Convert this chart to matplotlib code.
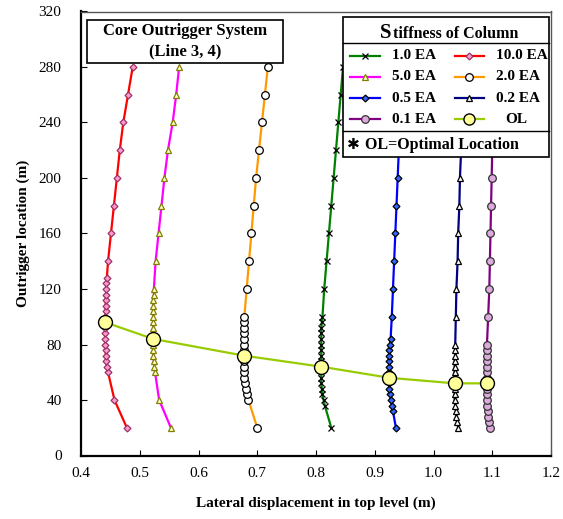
import matplotlib
matplotlib.use("Agg")
import matplotlib.pyplot as plt
from matplotlib.lines import Line2D
from matplotlib.patches import Rectangle

plt.rcParams['font.family'] = ['Liberation Serif', 'DejaVu Serif']

# outrigger heights (m) and top-level lateral displacement (m) for each column stiffness
h_10 = [20, 40, 60, 64, 68, 72, 76, 80, 84, 88, 92, 96, 100, 104, 108, 112, 116, 120, 124, 128,
        140, 160, 180, 200, 220, 240, 260, 280]
x_10 = [0.478, 0.457, 0.446, 0.444, 0.443, 0.442, 0.442, 0.441, 0.441, 0.441, 0.441, 0.441, 0.441, 0.442,
        0.442, 0.442, 0.443, 0.443, 0.443, 0.444, 0.446, 0.451, 0.456, 0.461, 0.466, 0.472, 0.480, 0.488]

h_5 = [20, 40, 60, 64, 68, 72, 76, 80, 84, 88, 92, 96, 100, 104, 108, 112, 116, 120,
       140, 160, 180, 200, 220, 240, 260, 280]
x_5 = [0.553, 0.533, 0.526, 0.525, 0.524, 0.523, 0.523, 0.523, 0.523, 0.523, 0.523, 0.523, 0.523, 0.523,
       0.523, 0.523, 0.524, 0.524, 0.527, 0.532, 0.537, 0.542, 0.548, 0.556, 0.562, 0.567]

h_2 = [20, 40, 44, 48, 52, 56, 60, 64, 68, 72, 76, 80, 84, 88, 92, 96, 100,
       120, 140, 160, 180, 200, 220, 240, 260, 280]
x_2 = [0.700, 0.685, 0.682, 0.680, 0.679, 0.678, 0.677, 0.677, 0.677, 0.677, 0.677, 0.677, 0.677, 0.677,
       0.677, 0.677, 0.678, 0.682, 0.686, 0.690, 0.694, 0.698, 0.703, 0.708, 0.713, 0.718]

h_1 = [20, 36, 40, 44, 48, 52, 56, 60, 64, 68, 72, 76, 80, 84, 88, 92, 96, 100,
       120, 140, 160, 180, 200, 220, 240, 260, 280]
x_1 = [0.826, 0.815, 0.813, 0.811, 0.810, 0.809, 0.809, 0.809, 0.809, 0.809, 0.809, 0.809, 0.809, 0.809,
       0.809, 0.809, 0.810, 0.811, 0.814, 0.818, 0.822, 0.826, 0.830, 0.834, 0.838, 0.842, 0.846]

h_05 = [20, 32, 36, 40, 44, 48, 52, 56, 60, 64, 68, 72, 76, 80, 84, 100,
        120, 140, 160, 180, 200, 220, 240, 260, 280]
x_05 = [0.936, 0.931, 0.929, 0.928, 0.926, 0.925, 0.925, 0.925, 0.925, 0.925, 0.925, 0.925, 0.925,
        0.926, 0.927, 0.929, 0.931, 0.933, 0.935, 0.937, 0.939, 0.941, 0.943, 0.945, 0.947]

h_02 = [20, 24, 28, 32, 36, 40, 44, 48, 52, 56, 60, 64, 68, 72, 76, 80, 100,
        120, 140, 160, 180, 200, 220, 240, 260, 280]
x_02 = [1.042, 1.040, 1.039, 1.038, 1.037, 1.036, 1.036, 1.036, 1.036, 1.036, 1.036, 1.036, 1.036,
        1.037, 1.037, 1.037, 1.038, 1.039, 1.041, 1.042, 1.044, 1.045, 1.047, 1.048, 1.050, 1.051]

h_01 = [20, 24, 28, 32, 36, 40, 44, 48, 52, 56, 60, 64, 68, 72, 76, 80, 100,
        120, 140, 160, 180, 200, 220, 240, 260, 280]
x_01 = [1.096, 1.094, 1.093, 1.092, 1.091, 1.091, 1.091, 1.091, 1.091, 1.091, 1.091, 1.091, 1.091,
        1.091, 1.091, 1.091, 1.093, 1.095, 1.096, 1.097, 1.098, 1.099, 1.100, 1.101, 1.102, 1.103]

# optimal outrigger location of each curve
ol_x = [0.441, 0.523, 0.677, 0.809, 0.925, 1.036, 1.091]
ol_h = [96, 84, 72, 64, 56, 52, 52]

series = [
    ("1.0 EA", x_1, h_1, dict(color="#008000", marker="x", ms=5, mec="black", mew=0.9)),
    ("10.0 EA", x_10, h_10, dict(color="#FF0000", marker="D", ms=3.5, mfc="#FF99CC", mec="#993366", mew=0.9)),
    ("5.0 EA", x_5, h_5, dict(color="#FF00FF", marker="^", ms=5, mfc="#FFFFCC", mec="#808000", mew=0.9)),
    ("2.0 EA", x_2, h_2, dict(color="#FF9900", marker="o", ms=5.5, mfc="white", mec="black", mew=0.9)),
    ("0.5 EA", x_05, h_05, dict(color="#0000FF", marker="D", ms=3.5, mfc="#3366FF", mec="black", mew=0.9)),
    ("0.2 EA", x_02, h_02, dict(color="#000080", marker="^", ms=5, mfc="white", mec="black", mew=0.9)),
    ("0.1 EA", x_01, h_01, dict(color="#800080", marker="o", ms=5.5, mfc="#DDAADD", mec="#333333", mew=0.9)),
]
ol_style = dict(color="#99CC00", marker="o", ms=10, mfc="#FFFF99", mec="black", mew=1.0)

fig = plt.figure(figsize=(5.63, 5.19), dpi=100)
ax = fig.add_axes([81 / 563, 1 - 455.5 / 519, 470 / 563, 444 / 519])

for name, xs, hs, st in series:
    ax.plot(xs, hs, lw=1.6, **st)
ax.plot(ol_x, ol_h, lw=1.6, zorder=5, **ol_style)

ax.set_xlim(0.4, 1.2)
ax.set_ylim(0, 320)
ax.set_xticks([0.4, 0.5, 0.6, 0.7, 0.8, 0.9, 1.0, 1.1, 1.2])
ax.set_xticklabels(["0.4", "0.5", "0.6", "0.7", "0.8", "0.9", "1.0", "1.1", "1.2"])
ax.set_yticks(range(0, 321, 40))
ax.tick_params(direction="in", length=4, labelsize=11, pad=8)
ax.tick_params(axis="y", pad=14)
for side in ("left", "bottom"):
    ax.spines[side].set_linewidth(1.6)
for side in ("top", "right"):
    ax.spines[side].set_linewidth(1.0)
    ax.spines[side].set_color("#555555")

ax.set_xlabel("Lateral displacement in top level (m)", fontsize=11, fontweight="bold", labelpad=12)
ax.set_ylabel("Outrigger location (m)", fontsize=11, fontweight="bold", labelpad=6)

# title box
ax.add_patch(Rectangle((0.013, 0.884), 0.417, 0.097, transform=ax.transAxes,
                       fc="white", ec="black", lw=1.2, zorder=10, clip_on=False))
ax.text(0.222, 0.956, "Core Outrigger System", transform=ax.transAxes,
        ha="center", va="center", fontsize=12, fontweight="bold", zorder=11)
ax.text(0.222, 0.910, "(Line 3, 4)", transform=ax.transAxes,
        ha="center", va="center", fontsize=12, fontweight="bold", zorder=11)

# legend panel
lx0, lx1, ly0, ly1 = 0.557, 0.996, 0.673, 0.987
ax.add_patch(Rectangle((lx0, ly0), lx1 - lx0, ly1 - ly0, transform=ax.transAxes,
                       fc="white", ec="black", lw=1.2, zorder=10, clip_on=False))
for yy in (0.928, 0.731):
    ax.add_line(Line2D([lx0, lx1], [yy, yy], transform=ax.transAxes, color="black",
                       lw=1.0, zorder=11, clip_on=False))
ax.text(0.636, 0.952, "S", transform=ax.transAxes, ha="left", va="center",
        fontsize=15, fontweight="bold", zorder=12)
ax.text(0.663, 0.950, "tiffness of Column", transform=ax.transAxes, ha="left", va="center",
        fontsize=11.5, fontweight="bold", zorder=12)

rows = [0.900, 0.853, 0.805, 0.757]
cols = [(0.572, 0.637, 0.661), (0.796, 0.857, 0.882)]
entries = [(s[0], s[3]) for s in series] + [("OL", ol_style)]
for i, (name, st) in enumerate(entries):
    r, c = divmod(i, 2)
    xa, xb, xt = cols[c]
    yy = rows[r]
    sty = dict(st)
    if name == "OL":
        sty["ms"] = 8
        xt = xt + 0.02
    ax.add_line(Line2D([xa, xb], [yy, yy], transform=ax.transAxes, lw=1.6, zorder=12,
                       clip_on=False, color=sty["color"]))
    mk = {k: v for k, v in sty.items() if k != "color"}
    ax.add_line(Line2D([(xa + xb) / 2], [yy], transform=ax.transAxes, ls="none", zorder=13,
                       clip_on=False, color=sty["color"], **mk))
    ax.text(xt, yy, name, transform=ax.transAxes, ha="left", va="center",
            fontsize=11, fontweight="bold", zorder=12)

ax.text(0.579, 0.700, "\u2731", transform=ax.transAxes, ha="center", va="center",
        fontsize=11, fontweight="bold", family=["DejaVu Sans"], zorder=12)
ax.text(0.604, 0.700, "OL=Optimal Location", transform=ax.transAxes, ha="left", va="center",
        fontsize=11.5, fontweight="bold", zorder=12)

fig.savefig("out.png", dpi=100)
